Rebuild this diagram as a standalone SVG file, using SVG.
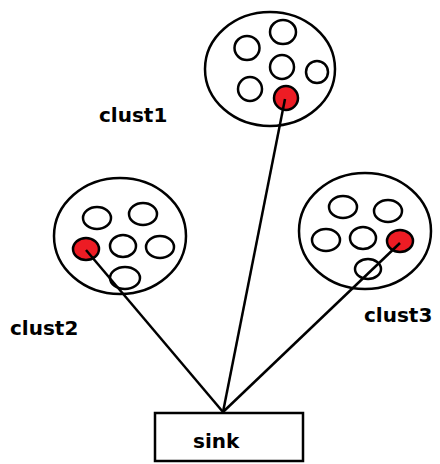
<svg xmlns="http://www.w3.org/2000/svg" width="440" height="464" viewBox="0 0 440 464">
<style>
.big{fill:#fff;stroke:#000;stroke-width:2.5}
.node{fill:#fff;stroke:#000;stroke-width:2.5}
.red{fill:#ed1c24;stroke:#000;stroke-width:2.5}
.edge{stroke:#000;stroke-width:2.5;fill:none}
.lbl{font-family:"DejaVu Sans",Verdana,sans-serif;font-weight:bold;font-size:20px;fill:#000}
</style>
<rect width="440" height="464" fill="#fff"/>
<g id="clust1">
<ellipse class="big" cx="270" cy="69" rx="65" ry="57"/>
<ellipse class="node" cx="283" cy="32" rx="13" ry="12"/>
<ellipse class="node" cx="247" cy="48" rx="12.5" ry="12"/>
<ellipse class="node" cx="282" cy="67" rx="12" ry="12"/>
<ellipse class="node" cx="317" cy="72" rx="11" ry="11"/>
<ellipse class="node" cx="250" cy="89" rx="12" ry="12"/>
<ellipse class="red" cx="286" cy="98" rx="12" ry="12"/>
<text class="lbl" x="99" y="122">clust1</text>
</g>
<g id="clust2">
<ellipse class="big" cx="120" cy="236" rx="66" ry="58"/>
<ellipse class="node" cx="97" cy="218" rx="14" ry="11"/>
<ellipse class="node" cx="143" cy="214" rx="14" ry="11"/>
<ellipse class="red" cx="86" cy="249" rx="13" ry="11"/>
<ellipse class="node" cx="123" cy="246" rx="13" ry="11"/>
<ellipse class="node" cx="160" cy="247" rx="14" ry="11"/>
<ellipse class="node" cx="125" cy="278" rx="15" ry="11"/>
<text class="lbl" x="10" y="335">clust2</text>
</g>
<g id="clust3">
<ellipse class="big" cx="365" cy="231" rx="66" ry="58"/>
<ellipse class="node" cx="343" cy="207" rx="14" ry="11"/>
<ellipse class="node" cx="388" cy="211" rx="14" ry="11"/>
<ellipse class="node" cx="326" cy="240" rx="14" ry="11"/>
<ellipse class="node" cx="363" cy="238" rx="13" ry="11"/>
<ellipse class="red" cx="400" cy="241" rx="13" ry="11"/>
<ellipse class="node" cx="368" cy="269" rx="13" ry="10"/>
<text class="lbl" x="364" y="322">clust3</text>
</g>
<g id="connectors">
<line class="edge" x1="285" y1="99" x2="223" y2="412"/>
<line class="edge" x1="86" y1="250" x2="223" y2="412"/>
<line class="edge" x1="400" y1="243" x2="223" y2="412"/>
</g>
<g id="sink">
<rect x="155" y="413" width="148" height="48" fill="#fff" stroke="#000" stroke-width="2.5"/>
<text class="lbl" x="193" y="448">sink</text>
</g>
</svg>
